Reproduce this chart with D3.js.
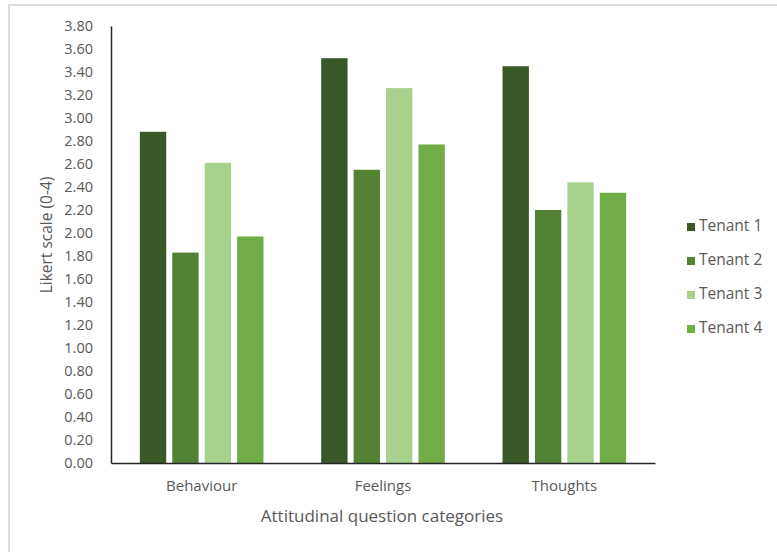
<!DOCTYPE html>
<html>
<head>
<meta charset="utf-8">
<script src="https://cdn.jsdelivr.net/npm/d3@7"></script>
<style>
  html, body { margin: 0; padding: 0; background: #fff; }
  svg { display: block; }
  text { font-family: "Open Sans", "Noto Sans", sans-serif; fill: #595959; }
</style>
</head>
<body>
<svg id="chart" width="777" height="552"></svg>
<script>
// Mean Likert scores (0-4) per tenant for each attitudinal category
const categories = ["Behaviour", "Feelings", "Thoughts"];
const seriesNames = ["Tenant 1", "Tenant 2", "Tenant 3", "Tenant 4"];
const tenant1 = [2.88, 3.52, 3.45];
const tenant2 = [1.83, 2.55, 2.20];
const tenant3 = [2.61, 3.26, 2.44];
const tenant4 = [1.97, 2.77, 2.35];
const yTicks = d3.range(0, 3.8001, 0.2);
const colors = ["#3a5727", "#548235", "#a9d18e", "#70ad47"];

const seriesValues = [tenant1, tenant2, tenant3, tenant4];

const svg = d3.select("#chart");

// outer chart frame (open at right and bottom edges of the window)
svg.append("rect")
  .attr("x", 9).attr("y", 5)
  .attr("width", 800).attr("height", 600)
  .attr("fill", "none")
  .attr("stroke", "#dedede")
  .attr("stroke-width", 2);

const plot = { left: 111, right: 655, top: 26, bottom: 463 };

const x0 = d3.scaleBand()
  .domain(categories)
  .range([plot.left, plot.right])
  .paddingInner(0).paddingOuter(0);

const bw = x0.bandwidth();
const barW = bw / 6.88;
const gap = barW * 0.23;
const groupW = 4 * barW + 3 * gap;

const y = d3.scaleLinear().domain([0, 3.8]).range([plot.bottom, plot.top]);

// bars
seriesValues.forEach((vals, si) => {
  svg.append("g")
    .selectAll("rect")
    .data(vals.map((v, i) => ({ cat: categories[i], v })))
    .join("rect")
    .attr("x", d => x0(d.cat) + (bw - groupW) / 2 + si * (barW + gap))
    .attr("y", d => y(d.v))
    .attr("width", barW)
    .attr("height", d => y(0) - y(d.v))
    .attr("fill", colors[si]);
});

// y axis
const yAxis = d3.axisLeft(y)
  .tickValues(yTicks)
  .tickFormat(d3.format(".2f"))
  .tickSize(0)
  .tickPadding(18);
const gy = svg.append("g")
  .attr("transform", `translate(${plot.left},0)`)
  .call(yAxis);
gy.select(".domain").attr("stroke", "#262626").attr("stroke-width", 1.5);
gy.selectAll("text").style("font-size", "14.5px").style("font-family", "'Open Sans', sans-serif").attr("fill", "#595959");

// x axis
const xAxis = d3.axisBottom(x0).tickSize(0).tickPadding(17);
const gx = svg.append("g")
  .attr("transform", `translate(0,${plot.bottom})`)
  .call(xAxis);
gx.select(".domain").attr("stroke", "#262626").attr("stroke-width", 1.5);
gx.selectAll("text").style("font-size", "15px").style("font-family", "'Open Sans', sans-serif").attr("fill", "#595959");

// axis titles
svg.append("text")
  .attr("transform", `translate(48,235) rotate(-90)`)
  .attr("text-anchor", "middle")
  .attr("dominant-baseline", "middle")
  .style("font-size", "15.5px")
  .text("Likert scale (0-4)");

svg.append("text")
  .attr("x", 382).attr("y", 517)
  .attr("text-anchor", "middle")
  .attr("dominant-baseline", "middle")
  .style("font-size", "17px")
  .text("Attitudinal question categories");

// legend
const legend = svg.append("g");
seriesNames.forEach((name, i) => {
  const ly = 227 + i * 34;
  legend.append("rect")
    .attr("x", 687).attr("y", ly - 4)
    .attr("width", 8).attr("height", 8)
    .attr("fill", colors[i]);
  legend.append("text")
    .attr("x", 699).attr("y", ly)
    .attr("dominant-baseline", "middle")
    .style("font-size", "15.5px")
    .text(name);
});
</script>
</body>
</html>
